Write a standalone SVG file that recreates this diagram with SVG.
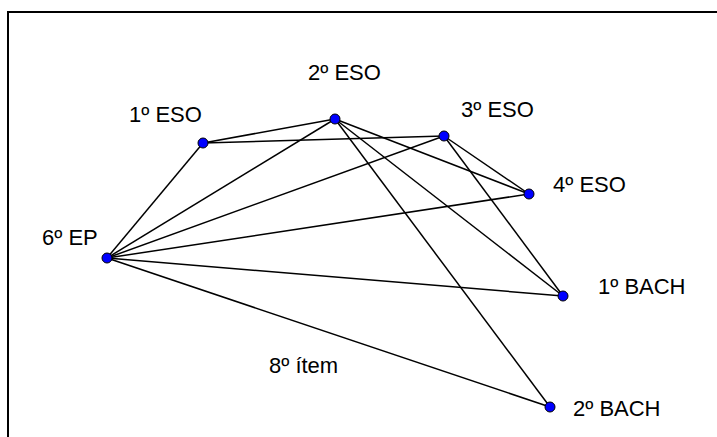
<svg xmlns="http://www.w3.org/2000/svg" width="717" height="437" viewBox="0 0 717 437">
<style>
.edge{stroke:#000;stroke-width:1.5;fill:none}
.pt{fill:#0000ff;stroke:#000;stroke-width:1}
.lbl{font-family:"Liberation Sans",Arial,sans-serif;font-size:22px;fill:#000}
.frame{stroke:#000;stroke-width:2;fill:none}
</style>
<rect width="717" height="437" fill="#fff"/>
<path class="frame" d="M8,438 V12 H718"/>
<g id="connectors">
<line class="edge" x1="203" y1="143" x2="335" y2="119"/>
<line class="edge" x1="203" y1="143" x2="444" y2="136"/>
<line class="edge" x1="203" y1="143" x2="107" y2="258"/>
<line class="edge" x1="335" y1="119" x2="107" y2="258"/>
<line class="edge" x1="335" y1="119" x2="529" y2="194"/>
<line class="edge" x1="335" y1="119" x2="563" y2="296"/>
<line class="edge" x1="335" y1="119" x2="550" y2="407"/>
<line class="edge" x1="444" y1="136" x2="107" y2="258"/>
<line class="edge" x1="444" y1="136" x2="529" y2="194"/>
<line class="edge" x1="444" y1="136" x2="563" y2="296"/>
<line class="edge" x1="529" y1="194" x2="107" y2="258"/>
<line class="edge" x1="107" y1="258" x2="563" y2="296"/>
<line class="edge" x1="107" y1="258" x2="550" y2="407"/>
</g>
<g id="n1eso"><circle class="pt" cx="203" cy="143" r="5"/><text class="lbl" x="129" y="122">1º ESO</text></g>
<g id="n2eso"><circle class="pt" cx="335" cy="119" r="5"/><text class="lbl" x="308" y="80">2º ESO</text></g>
<g id="n3eso"><circle class="pt" cx="444" cy="136" r="5"/><text class="lbl" x="461" y="117">3º ESO</text></g>
<g id="n4eso"><circle class="pt" cx="529" cy="194" r="5"/><text class="lbl" x="553" y="192">4º ESO</text></g>
<g id="n6ep"><circle class="pt" cx="107" cy="258" r="5"/><text class="lbl" x="42" y="245">6º EP</text></g>
<g id="n1bach"><circle class="pt" cx="563" cy="296" r="5"/><text class="lbl" x="598" y="294">1º BACH</text></g>
<g id="n2bach"><circle class="pt" cx="550" cy="407" r="5"/><text class="lbl" x="573" y="416">2º BACH</text></g>
<g id="item"><text class="lbl" x="269" y="373">8º ítem</text></g>
</svg>
